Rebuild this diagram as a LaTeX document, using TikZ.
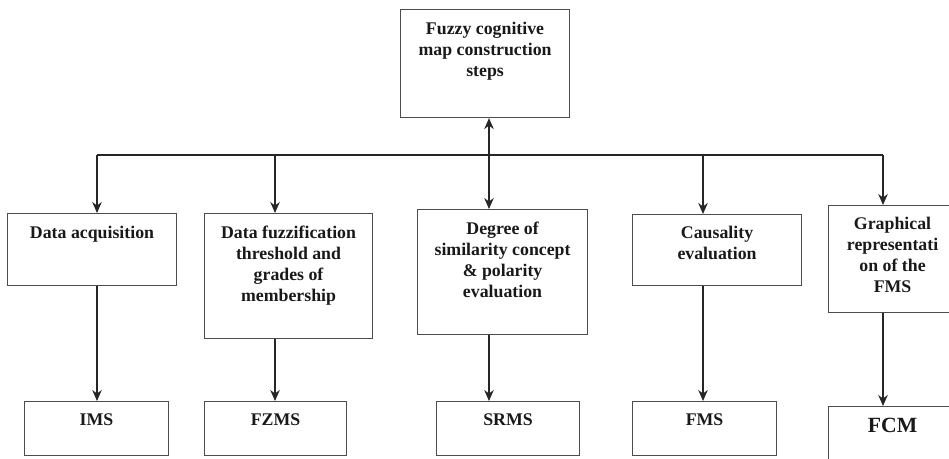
\documentclass[tikz,border=0pt]{standalone}
\usepackage{fontspec}
\setmainfont{Liberation Serif}
\usepackage{tikz}
\usetikzlibrary{arrows.meta,positioning}

\tikzset{
    flowtip/.tip={Stealth[length=11pt,width=9.5pt,inset=3.5pt]},
    stepbox/.style={draw=black!70, line width=1.1pt, anchor=north west, inner sep=0pt},
    steptext/.style={font=\bfseries\fontsize{17.8}{21}\selectfont, align=center, inner sep=0pt, text=black!90},
    flow/.style={draw=black!85, line width=1.2pt, -flowtip}
}

\begin{document}
\begin{tikzpicture}[x=1pt,y=-1pt]
                \useasboundingbox (0,0) rectangle (949,458);
                \clip (0,0) rectangle (949,458);
                % top box
                \node[stepbox, minimum width=169pt, minimum height=108pt] (steps) at (400,9) {};
                \node[steptext, below=13pt of steps.north] (steps-txt) {Fuzzy cognitive\\map construction\\steps};
                % middle row
                \node[stepbox, minimum width=169pt, minimum height=72pt] (acq) at (7,213) {};
                \node[steptext, below=13pt of acq.north] (acq-txt) {Data acquisition};
                \node[stepbox, minimum width=168pt, minimum height=125pt] (fuzz) at (204,213) {};
                \node[steptext, below=13pt of fuzz.north] (fuzz-txt) {Data fuzzification\\threshold and\\grades of\\membership};
                \node[stepbox, minimum width=170pt, minimum height=125pt] (simil) at (417,209) {};
                \node[steptext, below=13pt of simil.north] (simil-txt) {Degree of\\similarity concept\\\& polarity\\evaluation};
                \node[stepbox, minimum width=169pt, minimum height=71pt] (caus) at (632,214) {};
                \node[steptext, below=12pt of caus.north] (caus-txt) {Causality\\evaluation};
                \node[stepbox, minimum width=128pt, minimum height=107pt] (graph) at (828,205) {};
                \node[steptext, below=12pt of graph.north] (graph-txt) {Graphical\\representati\\on of the\\FMS};
                % bottom row
                \node[stepbox, minimum width=144pt, minimum height=54pt] (ims) at (24,401) {};
                \node[steptext, below=13pt of ims.north] (ims-txt) {IMS};
                \node[stepbox, minimum width=142pt, minimum height=54pt] (fzms) at (204,401) {};
                \node[steptext, below=13pt of fzms.north] (fzms-txt) {FZMS};
                \node[stepbox, minimum width=143pt, minimum height=54pt] (srms) at (436,401) {};
                \node[steptext, below=13pt of srms.north] (srms-txt) {SRMS};
                \node[stepbox, minimum width=144pt, minimum height=54pt] (fms) at (632,401) {};
                \node[steptext, below=13pt of fms.north] (fms-txt) {FMS};
                \node[stepbox, minimum width=128pt, minimum height=60pt] (fcm) at (828,406) {};
                \node[steptext, font=\bfseries\fontsize{21.7}{26}\selectfont, below=12pt of fcm.north] (fcm-txt) {FCM};
                % bus
                \coordinate (b1) at (97,155);
                \coordinate (b2) at (275,155);
                \coordinate (b3) at (489,155);
                \coordinate (b4) at (703,155);
                \coordinate (b5) at (883,155);
                \draw[black!85, line width=1.2pt] (b1) -- (b5);
                \draw[flow] (b1) -- (acq.north -| b1);
                \draw[flow] (b2) -- (fuzz.north -| b2);
                \draw[flow, flowtip-flowtip] (simil.north -| b3) -- (steps.south -| b3);
                \draw[flow] (b4) -- (caus.north -| b4);
                \draw[flow] (b5) -- (graph.north -| b5);
                % down to the maps
                \draw[flow] (acq.south -| b1) -- (ims.north -| b1);
                \draw[flow] (fuzz.south -| b2) -- (fzms.north -| b2);
                \draw[flow] (simil.south -| b3) -- (srms.north -| b3);
                \draw[flow] (caus.south -| b4) -- (fms.north -| b4);
                \draw[flow] (graph.south -| b5) -- (fcm.north -| b5);
\end{tikzpicture}
\end{document}
